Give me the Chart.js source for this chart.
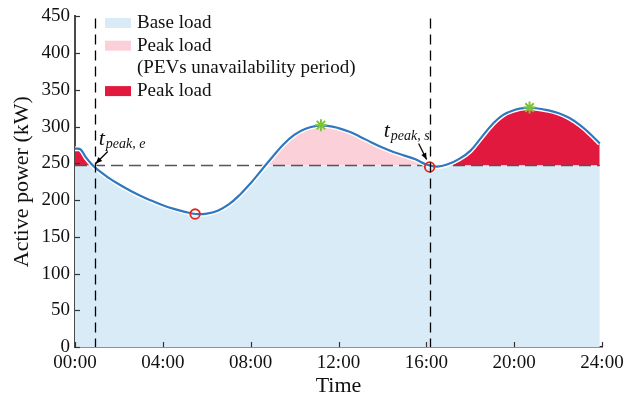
<!DOCTYPE html>
<html>
<head>
<meta charset="utf-8">
<script src="https://cdn.jsdelivr.net/npm/chart.js@4.4.1/dist/chart.umd.min.js"></script>
<style>
  html, body { margin: 0; padding: 0; background: #fff; }
  #wrap { width: 624px; height: 397px; }
</style>
</head>
<body>
<div id="wrap"><canvas id="loadChart"></canvas></div>
<script>
// daily load profile: hour of day -> active power (kW)
const hours = [0, 0.25, 0.5, 0.75, 1, 1.5, 2, 2.5, 3, 3.5, 4, 4.5, 5, 5.5, 6, 6.5, 7, 7.5,
  8, 8.5, 9, 9.5, 10, 10.5, 11, 11.5, 12, 12.5, 13, 13.5, 14, 14.5, 15, 15.5, 16, 16.5,
  17, 17.5, 18, 18.5, 19, 19.5, 20, 20.5, 21, 21.5, 22, 22.5, 23, 23.5, 23.9];
const load = [270, 269, 258, 249, 242, 231, 221.5, 213, 205.5, 199, 193, 188, 184, 181, 181.5, 185.5, 194, 207,
  223, 241, 259, 276, 289, 297, 301, 301, 298, 293, 286, 278.5, 271.5, 265.5, 260.5, 255.5, 248.5, 245.5,
  249, 256, 267, 285, 303, 316, 322.5, 325.5, 325, 322.5, 318.5, 312, 302, 289, 277];

const threshold = 247;          // base load limit
const tPeakE = 0.9;             // end of morning peak
const tPeakS = 16.15;           // start of evening peak
const unavailWindow = [8.5, 16];  // PEVs unavailable
const valleyPts = [{ x: 5.47, y: 181 }, { x: 16.15, y: 245 }];
const peakPts = [{ x: 11.2, y: 302 }, { x: 20.7, y: 326 }];

const xTicks = [0, 4, 8, 12, 16, 20, 24];
const yTicks = [0, 50, 100, 150, 200, 250, 300, 350, 400, 450];

const BLUE_FILL = "#d9ebf7";
const PINK_FILL = "#fcd0d9";
const RED_FILL = "#e2193e";
const LINE_BLUE = "#2f77bf";
const SERIF = "'Liberation Serif', 'Times New Roman', serif";
const TENSION = 0.4;

const pts = (fn) => hours.map((h, i) => ({ x: h, y: fn(h, load[i]) }));

const baseData = pts((h, v) => Math.min(v, threshold));
const pinkData = pts((h, v) => (h >= unavailWindow[0] && h <= unavailWindow[1] ? v : null));
const redData = pts((h, v) => (h <= 1 || h >= 16.5 ? v : null));
const curveData = pts((h, v) => v);
const limitData = [{ x: hours[0], y: threshold }, { x: hours[hours.length - 1], y: threshold }];

// inward ticks, dashed markers, legend and t_peak labels
const decorations = {
  id: "decorations",
  afterDatasetsDraw(chart) {
    const { ctx, chartArea: a, scales: { x, y } } = chart;
    ctx.save();

    // vertical dashed lines at t_peak,e and t_peak,s
    ctx.strokeStyle = "#000";
    ctx.lineWidth = 1.3;
    ctx.setLineDash([10, 6]);
    [tPeakE, tPeakS].forEach(t => {
      const px = Math.round(x.getPixelForValue(t)) + 0.5;
      ctx.beginPath();
      ctx.moveTo(px, a.top + 2);
      ctx.lineTo(px, a.bottom);
      ctx.stroke();
    });
    ctx.setLineDash([]);

    // inward tick marks
    ctx.strokeStyle = "#333";
    ctx.lineWidth = 1.2;
    yTicks.forEach(v => {
      const py = Math.round(y.getPixelForValue(v)) + 0.5;
      ctx.beginPath(); ctx.moveTo(a.left, py); ctx.lineTo(a.left + 5, py); ctx.stroke();
    });
    xTicks.forEach(v => {
      const px = Math.round(x.getPixelForValue(v)) + 0.5;
      ctx.beginPath(); ctx.moveTo(px, a.bottom); ctx.lineTo(px, a.bottom - 5); ctx.stroke();
    });

    // legend
    const legend = [
      { color: BLUE_FILL, lines: ["Base load"] },
      { color: PINK_FILL, lines: ["Peak load", "(PEVs unavailability period)"] },
      { color: RED_FILL, lines: ["Peak load"] }
    ];
    ctx.font = "19px " + SERIF;
    ctx.textBaseline = "middle";
    let ly = 23;
    legend.forEach(item => {
      ctx.fillStyle = item.color;
      ctx.fillRect(105, ly - 5, 26, 10);
      ctx.fillStyle = "#111";
      item.lines.forEach(line => {
        ctx.fillText(line, 137, ly);
        ly += 22.7;
      });
    });

    // t_peak labels with arrows
    const ty = y.getPixelForValue(threshold);
    const label = (px, py, sub) => {
      ctx.fillStyle = "#111";
      ctx.textBaseline = "alphabetic";
      ctx.font = "italic 22px " + SERIF;
      ctx.fillText("t", px, py);
      const w = ctx.measureText("t").width;
      ctx.font = "italic 14px " + SERIF;
      ctx.fillText(sub, px + w + 1, py + 3);
    };
    const arrow = (x1, y1, x2, y2) => {
      ctx.strokeStyle = "#000";
      ctx.lineWidth = 1.2;
      ctx.beginPath(); ctx.moveTo(x1, y1); ctx.lineTo(x2, y2); ctx.stroke();
      const ang = Math.atan2(y2 - y1, x2 - x1);
      ctx.fillStyle = "#000";
      ctx.beginPath();
      ctx.moveTo(x2, y2);
      ctx.lineTo(x2 - 7 * Math.cos(ang - 0.4), y2 - 7 * Math.sin(ang - 0.4));
      ctx.lineTo(x2 - 7 * Math.cos(ang + 0.4), y2 - 7 * Math.sin(ang + 0.4));
      ctx.closePath();
      ctx.fill();
    };
    const ex = x.getPixelForValue(tPeakE);
    label(ex + 4, ty - 21, "peak, e");
    arrow(ex + 13, ty - 14, ex + 1, ty - 2);
    const sx = x.getPixelForValue(tPeakS);
    label(sx - 46, ty - 29, "peak, s");
    arrow(sx - 11, ty - 22, sx - 3, ty - 6);

    ctx.restore();
  }
};

const area = (data, color, order, fill) => ({
  data, fill, order,
  backgroundColor: color,
  borderWidth: 0,
  pointRadius: 0,
  tension: TENSION,
  spanGaps: false
});

new Chart(document.getElementById("loadChart"), {
  type: "line",
  data: {
    datasets: [
      area(baseData, BLUE_FILL, 10, "origin"),
      area(pinkData, PINK_FILL, 9, { value: threshold, above: PINK_FILL, below: "rgba(0,0,0,0)" }),
      area(redData, RED_FILL, 8, { value: threshold, above: RED_FILL, below: "rgba(0,0,0,0)" }),
      {
        data: limitData, order: 6, fill: false, pointRadius: 0,
        borderColor: "#555", borderWidth: 1.6, borderDash: [12, 6]
      },
      {
        data: curveData, order: 4, fill: false, pointRadius: 0,
        borderColor: "#fff", borderWidth: 5, tension: TENSION
      },
      {
        data: curveData, order: 3, fill: false, pointRadius: 0,
        borderColor: LINE_BLUE, borderWidth: 2.2, tension: TENSION
      },
      {
        data: valleyPts, order: 1, showLine: false,
        pointStyle: "circle", pointRadius: 4.8, pointBorderWidth: 1.8,
        pointBorderColor: "#e3261c", pointBackgroundColor: "rgba(0,0,0,0)"
      },
      {
        data: peakPts, order: 1, showLine: false,
        pointStyle: "star", pointRadius: 6, pointBorderWidth: 2,
        pointBorderColor: "#7cc331", pointBackgroundColor: "#7cc331"
      }
    ]
  },
  options: {
    responsive: true,
    maintainAspectRatio: false,
    animation: false,
    layout: { padding: { top: 16, right: 22, left: 0, bottom: 0 } },
    plugins: { legend: { display: false }, tooltip: { enabled: false } },
    scales: {
      x: {
        type: "linear", min: 0, max: 24,
        afterFit: s => { s.height = 50; s.paddingRight = 0; s.paddingLeft = 0; },
        afterBuildTicks: s => { s.ticks = xTicks.map(v => ({ value: v })); },
        grid: { display: false, drawTicks: false },
        border: { display: true, color: "#222", width: 1.5 },
        ticks: {
          padding: 5, color: "#111", maxRotation: 0,
          font: { family: SERIF, size: 19 },
          callback: v => String(v).padStart(2, "0") + ":00"
        },
        title: {
          display: true, text: "Time", color: "#111",
          font: { family: SERIF, size: 22, lineHeight: 1 }, padding: { top: 0, bottom: 0 }
        }
      },
      y: {
        min: 0, max: 450,
        afterFit: s => { s.width = 75; },
        afterBuildTicks: s => { s.ticks = yTicks.map(v => ({ value: v })); },
        grid: { display: false, drawTicks: false },
        border: { display: true, color: "#4a4a4a", width: 2 },
        ticks: {
          padding: 5, color: "#111",
          font: { family: SERIF, size: 19 }
        },
        title: {
          display: true, text: "Active power (kW)", color: "#111",
          font: { family: SERIF, size: 22, lineHeight: 1 }, padding: { top: 11, bottom: 0 }
        }
      }
    }
  },
  plugins: [decorations]
});
</script>
</body>
</html>
